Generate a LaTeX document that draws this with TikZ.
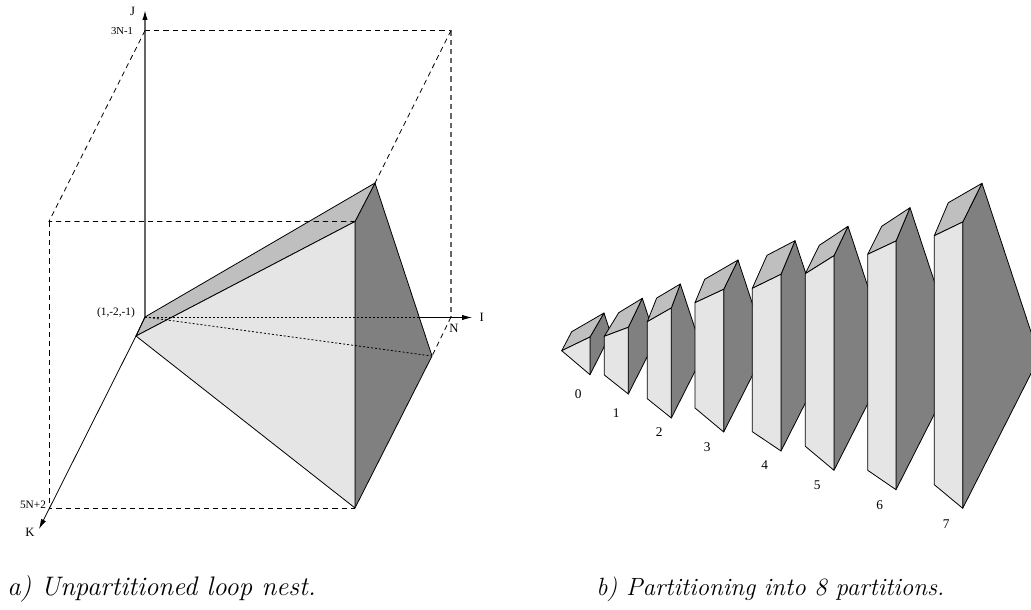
\documentclass[tikz,border=0pt]{standalone}
\usepackage{fontspec}
\usetikzlibrary{arrows.meta,calc}
\newfontfamily\labfont{Liberation Serif}
\definecolor{faceA}{gray}{0.9}
\definecolor{faceB}{gray}{0.75}
\definecolor{faceC}{gray}{0.5}
\tikzset{
  x=0.75pt,y=-0.75pt,
  faceedge/.style={draw=black,line width=0.6pt,line join=round},
  boxline/.style={black,line width=0.6pt,dash pattern=on 3.9pt off 3pt},
  hiddenline/.style={black,line width=0.6pt,dash pattern=on 1.5pt off 1.5pt},
  axisline/.style={black,line width=0.6pt,-{Latex[length=7.5pt,width=4pt,color=black,fill=black]}},
  lab/.style={inner sep=0pt,font=\labfont\fontsize{9.5}{10}\selectfont},
  num/.style={inner sep=0pt,font=\labfont\fontsize{10}{11}\selectfont},
  captext/.style={inner sep=0pt,anchor=base west}
}
\newcommand{\prismslice}[6]{%
  \coordinate (pLt) at #1; \coordinate (pLb) at #2;
  \coordinate (pRt) at #3; \coordinate (pRb) at #4;
  \coordinate (pBl) at #5; \coordinate (pBr) at #6;
  \coordinate (pF) at (intersection cs:first line={(pBr)--($(pBr)+(57,173)$)},second line={(pRb)--($(pRb)+(77,-152)$)});
  \filldraw[faceedge,fill=faceC] (pRt)--(pBr)--(pF)--(pRb)--cycle;
  \filldraw[faceedge,fill=faceB] (pLt)--(pBl)--(pBr)--(pRt)--cycle;
  \filldraw[faceedge,fill=faceA] (pLt)--(pRt)--(pRb)--(pLb)--cycle;
}
\begin{document}
\begin{tikzpicture}
\useasboundingbox (0,0) rectangle (1031,610);
\clip (0,0) rectangle (1031,610);
\fill[white] (0,0) rectangle (1031,610);
% left figure
\coordinate (A) at (136,336);
\coordinate (B) at (145,317);
\coordinate (C) at (375,183);
\coordinate (D) at (355,221.5);
\coordinate (E) at (355,508);
\coordinate (F) at (432,356);
\coordinate (T1) at (145,30.5);
\coordinate (T2) at (451,30.5);
\coordinate (T3) at (451,317);
\coordinate (T4) at (49,221.5);
\coordinate (T5) at (49,508.5);
\coordinate (T6) at (355,508.5);
\coordinate (Jtip) at (145,10);
\coordinate (Itip) at (472,317.5);
\coordinate (Ktip) at (39,529);
\coordinate (Ix) at (419,317.5);
\coordinate (Bd) at (145,317.5);
\draw[axisline,line width=1pt,black!60!white] (B)--(Jtip);
\filldraw[faceedge,fill=faceC] (D)--(C)--(F)--(E)--cycle;
\filldraw[faceedge,fill=faceB] (A)--(B)--(C)--(D)--cycle;
\filldraw[faceedge,fill=faceA] (A)--(D)--(E)--cycle;
\draw[boxline] (T1)--(T2);
\draw[boxline,black!60!white,line width=1pt] (T2)--(T3);
\draw[boxline] (T1)--(T4)--(D);
\draw[boxline] (T2)--(C);
\draw[boxline] (T3)--(F);
\draw[boxline] (T4)--(T5)--(T6);
\draw[hiddenline] (Bd)--(Ix);
\draw[hiddenline] (B)--(F);
\draw[axisline] (Ix)--(Itip);
\draw[axisline] (A)--(Ktip);
\draw[faceedge] (A)--(B);
\node[lab] (lJ) at (132.5,11) {J};
\node[lab,font=\labfont\fontsize{8}{9}\selectfont] (l3N) at (122,31) {3N-1};
\node[lab,font=\labfont\fontsize{8.5}{9}\selectfont] (lO) at (116,313) {(1,-2,-1)};
\node[lab] (lI) at (481.7,317) {I};
\node[lab] (lN) at (454,328) {N};
\node[lab,font=\labfont\fontsize{8.5}{9}\selectfont] (l5N) at (33,505) {5N+2};
\node[lab] (lK) at (30,532) {K};
% right figure
\prismslice{(561.7,350.7)}{(561.7,350.7)}{(590,337)}{(590,374.7)}{(571.7,331.7)}{(604,313)}
\prismslice{(604.3,336.3)}{(604.3,375)}{(628.3,327.3)}{(628.3,394)}{(618.7,312.7)}{(642.3,298.3)}
\prismslice{(647.3,321.7)}{(647.3,398.7)}{(671.3,308)}{(671.3,418)}{(656.7,298)}{(680.3,284)}
\prismslice{(695,302.7)}{(695,408)}{(723.7,289.3)}{(723.7,432)}{(704.7,279.3)}{(738,260)}
\prismslice{(752.3,288.3)}{(752.3,431.7)}{(781,274.3)}{(781,451)}{(767,255.3)}{(795,240.7)}
\prismslice{(805.3,273.7)}{(805.3,446.3)}{(834,255.7)}{(834,470.3)}{(819.3,245.3)}{(848,226.3)}
\prismslice{(867.7,254.3)}{(867.7,470.3)}{(896,241)}{(896,489.7)}{(881.7,226.3)}{(910,207.7)}
\prismslice{(934.3,235.7)}{(934.3,484.7)}{(962.7,222)}{(962.7,508.3)}{(948.3,202.7)}{(982,183.3)}
\node[num] (n0) at (578.3,394.5) {0};
\node[num] (n1) at (616.3,413.5) {1};
\node[num] (n2) at (659.3,432.5) {2};
\node[num] (n3) at (707.3,447) {3};
\node[num] (n4) at (764.7,465.5) {4};
\node[num] (n5) at (817.3,485) {5};
\node[num] (n6) at (879.7,505) {6};
\node[num] (n7) at (946.3,524) {7};
\node[captext,font=\fontsize{20.1}{22}\selectfont\itshape] (capa) at (7,595) {a) Unpartitioned loop nest.};
\node[captext,font=\fontsize{18.7}{22}\selectfont\itshape] (capb) at (596,595) {b) Partitioning into 8 partitions.};
\end{tikzpicture}
\end{document}
